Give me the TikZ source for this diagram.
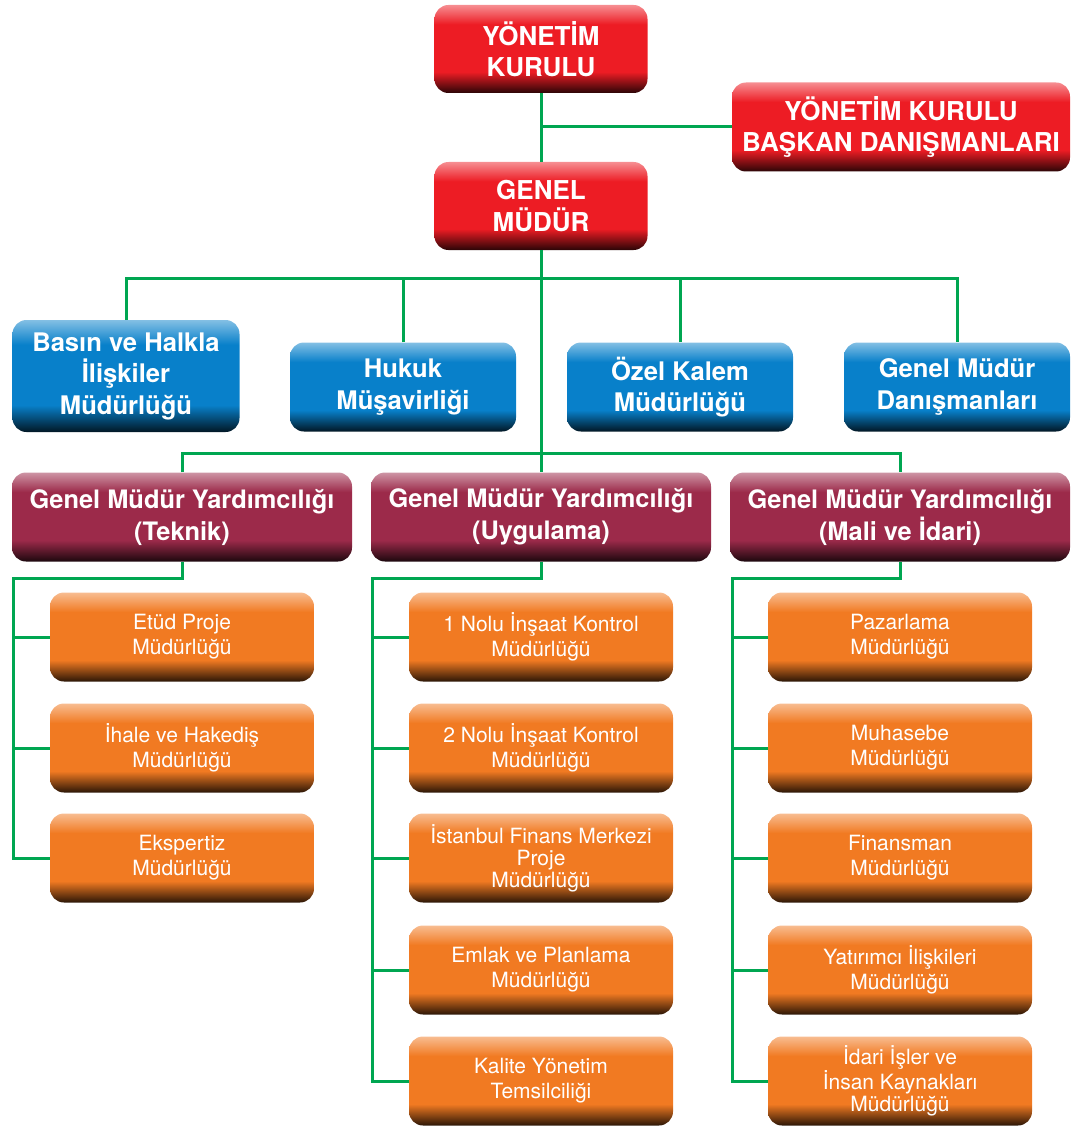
\documentclass[tikz,border=0pt]{standalone}
\usepackage{fontspec}
\setmainfont{TeX Gyre Heros}
\usepackage{tikz}

\definecolor{redBase}{HTML}{ED1C24}
\definecolor{blueBase}{HTML}{0880CA}
\definecolor{maroonBase}{HTML}{9C2A4A}
\definecolor{orangeBase}{HTML}{F17A22}
\definecolor{lineGreen}{HTML}{00A651}

\newcommand{\boxShading}[2]{
	\pgfdeclareverticalshading{#1}{100bp}{color(0bp)=(#2!18!black); color(25bp)=(#2!18!black);
		color(37bp)=(#2); color(64bp)=(#2); color(75bp)=(#2!50!white); color(100bp)=(#2!50!white)}
}
\boxShading{redShade}{redBase}
\boxShading{blueShade}{blueBase}
\boxShading{maroonShade}{maroonBase}
\boxShading{orangeShade}{orangeBase}

\newcommand{\officeNode}[5]{
	\node[#1] (#2) at (#3, #4) {#5};
}

\tikzset{
	unit/.style = {rounded corners = 14pt, align = center, text = white, inner sep = 0pt},
	boardbox/.style = {unit, shading = redShade, minimum width = 213pt, minimum height = 88pt,
		font = \fontsize{26}{31.5}\selectfont\bfseries},
	staffbox/.style = {unit, shading = blueShade, minimum width = 226pt, minimum height = 89pt,
		font = \fontsize{25.6}{31.5}\selectfont\bfseries},
	deputybox/.style = {unit, shading = maroonShade, minimum width = 340pt, minimum height = 89pt,
		font = \fontsize{25.4}{32}\selectfont\bfseries},
	deptbox/.style = {unit, shading = orangeShade, minimum width = 264pt, minimum height = 89pt,
		font = \fontsize{21}{25}\selectfont},
	link/.style = {draw = lineGreen, line width = 3pt}
}

\begin{document}
\begin{tikzpicture}[x = 1pt, y = -1pt]%

		\useasboundingbox (0, 0) rectangle (1080, 1126);

		% board
		\officeNode{boardbox}{yk}{541}{49}{YÖNETİM\\KURULU}
		\officeNode{boardbox, minimum width = 338pt, minimum height = 89pt}{bd}{901}{127}{YÖNETİM KURULU\\BAŞKAN DANIŞMANLARI}
		\officeNode{boardbox}{gm}{541}{206}{GENEL\\MÜDÜR}

		% staff
		\officeNode{staffbox, minimum width = 227pt, minimum height = 112pt}{basin}{126}{376}{Basın ve Halkla\\İlişkiler\\Müdürlüğü}
		\officeNode{staffbox}{hukuk}{403}{387}{Hukuk\\Müşavirliği}
		\officeNode{staffbox}{ozel}{680}{387}{Özel Kalem\\Müdürlüğü}
		\officeNode{staffbox}{danisman}{957}{387}{Genel Müdür\\Danışmanları}

		% deputies
		\officeNode{deputybox}{teknik}{182}{517}{Genel Müdür Yardımcılığı\\(Teknik)}
		\officeNode{deputybox}{uygulama}{541}{517}{Genel Müdür Yardımcılığı\\(Uygulama)}
		\officeNode{deputybox}{mali}{900}{517}{Genel Müdür Yardımcılığı\\(Mali ve İdari)}

		% teknik
		\officeNode{deptbox}{etud}{182}{637}{Etüd Proje\\Müdürlüğü}
		\officeNode{deptbox}{ihale}{182}{748}{İhale ve Hakediş\\Müdürlüğü}
		\officeNode{deptbox}{eksper}{182}{858}{Ekspertiz\\Müdürlüğü}

		% uygulama
		\officeNode{deptbox}{ik1}{541}{637}{1 Nolu İnşaat Kontrol\\Müdürlüğü}
		\officeNode{deptbox}{ik2}{541}{748}{2 Nolu İnşaat Kontrol\\Müdürlüğü}
		\officeNode{deptbox, font = \fontsize{21}{22}\selectfont}{ifm}{541}{858}{İstanbul Finans Merkezi\\Proje\\Müdürlüğü}
		\officeNode{deptbox}{emlak}{541}{970}{Emlak ve Planlama\\Müdürlüğü}
		\officeNode{deptbox}{kalite}{541}{1081}{Kalite Yönetim\\Temsilciliği}

		% mali ve idari
		\officeNode{deptbox}{pazar}{900}{637}{Pazarlama\\Müdürlüğü}
		\officeNode{deptbox}{muhasebe}{900}{748}{Muhasebe\\Müdürlüğü}
		\officeNode{deptbox}{finans}{900}{858}{Finansman\\Müdürlüğü}
		\officeNode{deptbox}{yatirimci}{900}{970}{Yatırımcı İlişkileri\\Müdürlüğü}
		\officeNode{deptbox, font = \fontsize{21}{22}\selectfont}{idari}{900}{1081}{İdari İşler ve\\İnsan Kaynakları\\Müdürlüğü}

		% hubs
		\coordinate (staffHub) at (541, 278);
		\coordinate (deputyHub) at (541, 453);
		\coordinate (railT) at (13, 578);
		\coordinate (railU) at (372, 578);
		\coordinate (railM) at (732, 578);

		% connectors
		\draw[link] (yk.south) -- (gm.north);
		\draw[link] (bd.west) -- (bd.west -| yk.south);
		\draw[link] (gm.south) -- (uygulama.north);
		\draw[link] (basin.north) |- (staffHub) -| (danisman.north);
		\draw[link] (hukuk.north) -- (hukuk.north |- staffHub);
		\draw[link] (ozel.north) -- (ozel.north |- staffHub);
		\draw[link] (teknik.north) |- (deputyHub) -| (mali.north);

		\draw[link] (teknik.south) |- (railT) |- (eksper.west);
		\draw[link] (railT) |- (etud.west);
		\draw[link] (railT) |- (ihale.west);

		\draw[link] (uygulama.south) |- (railU) |- (kalite.west);
		\foreach \dept in {ik1, ik2, ifm, emlak}
			\draw[link] (railU) |- (\dept.west);

		\draw[link] (mali.south) |- (railM) |- (idari.west);
		\foreach \dept in {pazar, muhasebe, finans, yatirimci}
			\draw[link] (railM) |- (\dept.west);

	\end{tikzpicture}
\end{document}
